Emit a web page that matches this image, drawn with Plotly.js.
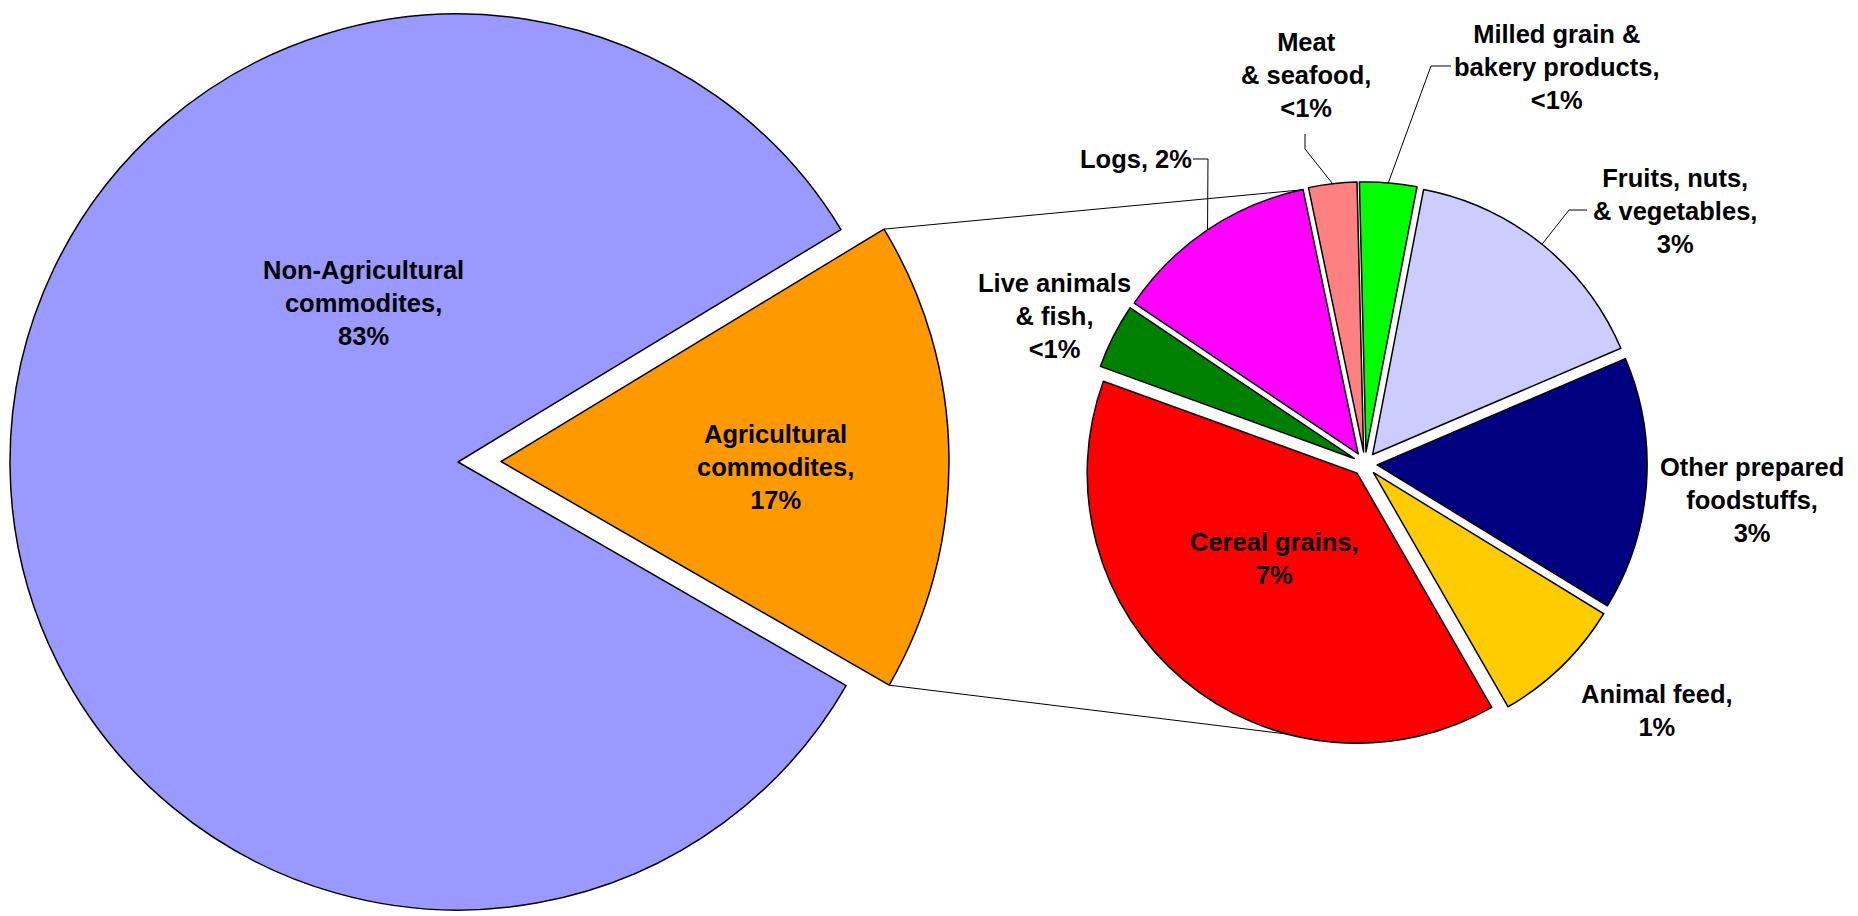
<!DOCTYPE html>
<html>
<head>
<meta charset="utf-8">
<script src="https://cdn.plot.ly/plotly-3.0.1.min.js"></script>
<style>html,body{margin:0;padding:0;background:#fff;overflow:hidden}</style>
</head>
<body>
<div id="chart" style="width:1858px;height:916px"></div>
<script>
// ---------------- DATA ----------------
const mainLabels = ["Agricultural commodites", "Non-Agricultural commodites"];
const mainValues = [17, 83];
const mainColors = ["#FF9900", "#9999FF"];
const mainDisplay = ["Agricultural<br>commodites,<br>{p}", "Non-Agricultural<br>commodites,<br>{p}"];

const subLabels = ["Cereal grains", "Live animals & fish", "Logs", "Meat & seafood",
  "Milled grain & bakery products", "Fruits, nuts, & vegetables", "Other prepared foodstuffs", "Animal feed"];
const subValues = [6.6, 0.66, 2.09, 0.49, 0.58, 2.64, 2.58, 1.35];
const subColors = ["#FF0000", "#008000", "#FF00FF", "#FF8080", "#00FF00", "#CCCCFF", "#000080", "#FFCC00"];
const subDisplay = ["Cereal grains,<br>{p}", "Live animals<br>& fish,<br>{p}", "Logs, {p}", "Meat<br>& seafood,<br>{p}",
  "Milled grain &<br>bakery products,<br>{p}", "Fruits, nuts,<br>& vegetables,<br>{p}", "Other prepared<br>foodstuffs,<br>{p}", "Animal feed,<br>{p}"];

// ---------------- LAYOUT CONSTANTS ----------------
const W = 1858, H = 916;
const FONT = {family: '"Liberation Sans", Arial, sans-serif', size: 25.5, color: '#000000', weight: 'bold'};
const BIG = {cx: 458, cy: 462, r: 448, rotation: 58.75, pull: 0.096};
const SMALL = {cx: 1365, cy: 464, r: 270, rotation: 150.1, pull: 0.045};
const mainLabelPos = [[775, 467], [363, 303]];
const subLabelPos = [[1274, 558], [1054, 316], [1136, 159], [1306, 75], [1556, 67], [1675, 211], [1752, 500], [1657, 710]];
// leader lines: start + elbow (px); end is computed on slice arc
const leaders = {2: [[1193, 159], [1208, 159]], 3: [[1305, 134], [1305, 149]], 4: [[1451, 66], [1431, 66]], 5: [[1587, 210], [1569, 210]]};
const connectorAngles = [348, 195]; // where connectors meet small pie (deg clockwise from top)

// ---------------- HELPERS ----------------
const pct = v => v < 1 ? '<1%' : Math.round(v) + '%';
const rad = d => d * Math.PI / 180;
const dirOf = a => [Math.sin(rad(a)), -Math.cos(rad(a))];
const domainFor = (cx, cy, half) => ({x: [(cx - half) / W, (cx + half) / W], y: [1 - (cy + half) / H, 1 - (cy - half) / H]});
const px = p => [p[0] / W, 1 - p[1] / H];
function sliceAngles(values, rotation) {
  const tot = values.reduce((s, v) => s + v, 0);
  let cur = rotation;
  return values.map(v => { const a0 = cur; cur += 360 * v / tot; return {a0, a1: cur, mid: (a0 + cur) / 2}; });
}
const mainAng = sliceAngles(mainValues, BIG.rotation);
const subAng = sliceAngles(subValues, SMALL.rotation);

const agIdx = 0;
const agDir = dirOf(mainAng[agIdx].mid);
const agOff = [BIG.pull * BIG.r * agDir[0], BIG.pull * BIG.r * agDir[1]];
const agC = [BIG.cx + agOff[0], BIG.cy + agOff[1]];

function smallPoint(angle) {
  const a = ((angle - SMALL.rotation) % 360 + 360) % 360 + SMALL.rotation;
  const s = subAng.find(s => a >= s.a0 && a <= s.a1) || subAng[0];
  const md = dirOf(s.mid), d = dirOf(angle);
  return [SMALL.cx + SMALL.pull * SMALL.r * md[0] + SMALL.r * d[0],
          SMALL.cy + SMALL.pull * SMALL.r * md[1] + SMALL.r * d[1]];
}

// ---------------- TRACES ----------------
const baseMain = {type: 'pie', labels: mainLabels, values: mainValues, sort: false, direction: 'clockwise',
  rotation: BIG.rotation, textinfo: 'none', hoverinfo: 'label+percent', showlegend: false};
const traceNonAg = Object.assign({}, baseMain, {
  marker: {colors: mainColors.map((c, i) => i === agIdx ? 'rgba(0,0,0,0)' : c),
           line: {color: '#000000', width: mainColors.map((c, i) => i === agIdx ? 0 : 1.5)}},
  domain: domainFor(BIG.cx, BIG.cy, BIG.r)});
const traceAg = Object.assign({}, baseMain, {
  marker: {colors: mainColors.map((c, i) => i === agIdx ? c : 'rgba(0,0,0,0)'),
           line: {color: '#000000', width: mainColors.map((c, i) => i === agIdx ? 1.5 : 0)}},
  domain: domainFor(agC[0], agC[1], BIG.r)});
const traceSub = {type: 'pie', labels: subLabels, values: subValues, sort: false, direction: 'clockwise',
  rotation: SMALL.rotation, pull: subValues.map(() => SMALL.pull), textinfo: 'none', showlegend: false,
  marker: {colors: subColors, line: {color: '#000000', width: 1.5}},
  domain: domainFor(SMALL.cx, SMALL.cy, SMALL.r * (1 + SMALL.pull))};

// ---------------- SHAPES ----------------
const shapes = [];
const agCorners = [mainAng[agIdx].a0, mainAng[agIdx].a1].map(a => {
  const d = dirOf(a); return [agC[0] + BIG.r * d[0], agC[1] + BIG.r * d[1]];
});
agCorners.forEach((c, k) => {
  const e = smallPoint(connectorAngles[k]);
  const p0 = px(c), p1 = px(e);
  shapes.push({type: 'line', xref: 'paper', yref: 'paper', x0: p0[0], y0: p0[1], x1: p1[0], y1: p1[1],
    line: {color: '#000000', width: 1}, layer: 'below'});
});
Object.keys(leaders).forEach(k => {
  const i = +k;
  const pts = leaders[k].concat([smallPoint(subAng[i].mid)]).map(px);
  const path = pts.map((p, j) => (j ? 'L' : 'M') + p[0].toFixed(5) + ',' + p[1].toFixed(5)).join(' ');
  shapes.push({type: 'path', xref: 'paper', yref: 'paper', path: path, line: {color: '#000000', width: 1}, layer: 'below'});
});

// ---------------- ANNOTATIONS ----------------
const annotations = [];
mainDisplay.forEach((t, i) => {
  const p = px(mainLabelPos[i]);
  annotations.push({xref: 'paper', yref: 'paper', x: p[0], y: p[1], xanchor: 'center', yanchor: 'middle',
    text: t.replace('{p}', pct(mainValues[i])), showarrow: false, font: FONT, align: 'center'});
});
subDisplay.forEach((t, i) => {
  const p = px(subLabelPos[i]);
  annotations.push({xref: 'paper', yref: 'paper', x: p[0], y: p[1], xanchor: 'center', yanchor: 'middle',
    text: t.replace('{p}', pct(subValues[i])), showarrow: false, font: FONT, align: 'center'});
});

Plotly.newPlot('chart', [traceNonAg, traceAg, traceSub], {
  width: W, height: H, margin: {l: 0, r: 0, t: 0, b: 0},
  paper_bgcolor: '#ffffff', plot_bgcolor: '#ffffff', showlegend: false,
  shapes: shapes, annotations: annotations
}, {displayModeBar: false, staticPlot: true});
</script>
</body>
</html>
